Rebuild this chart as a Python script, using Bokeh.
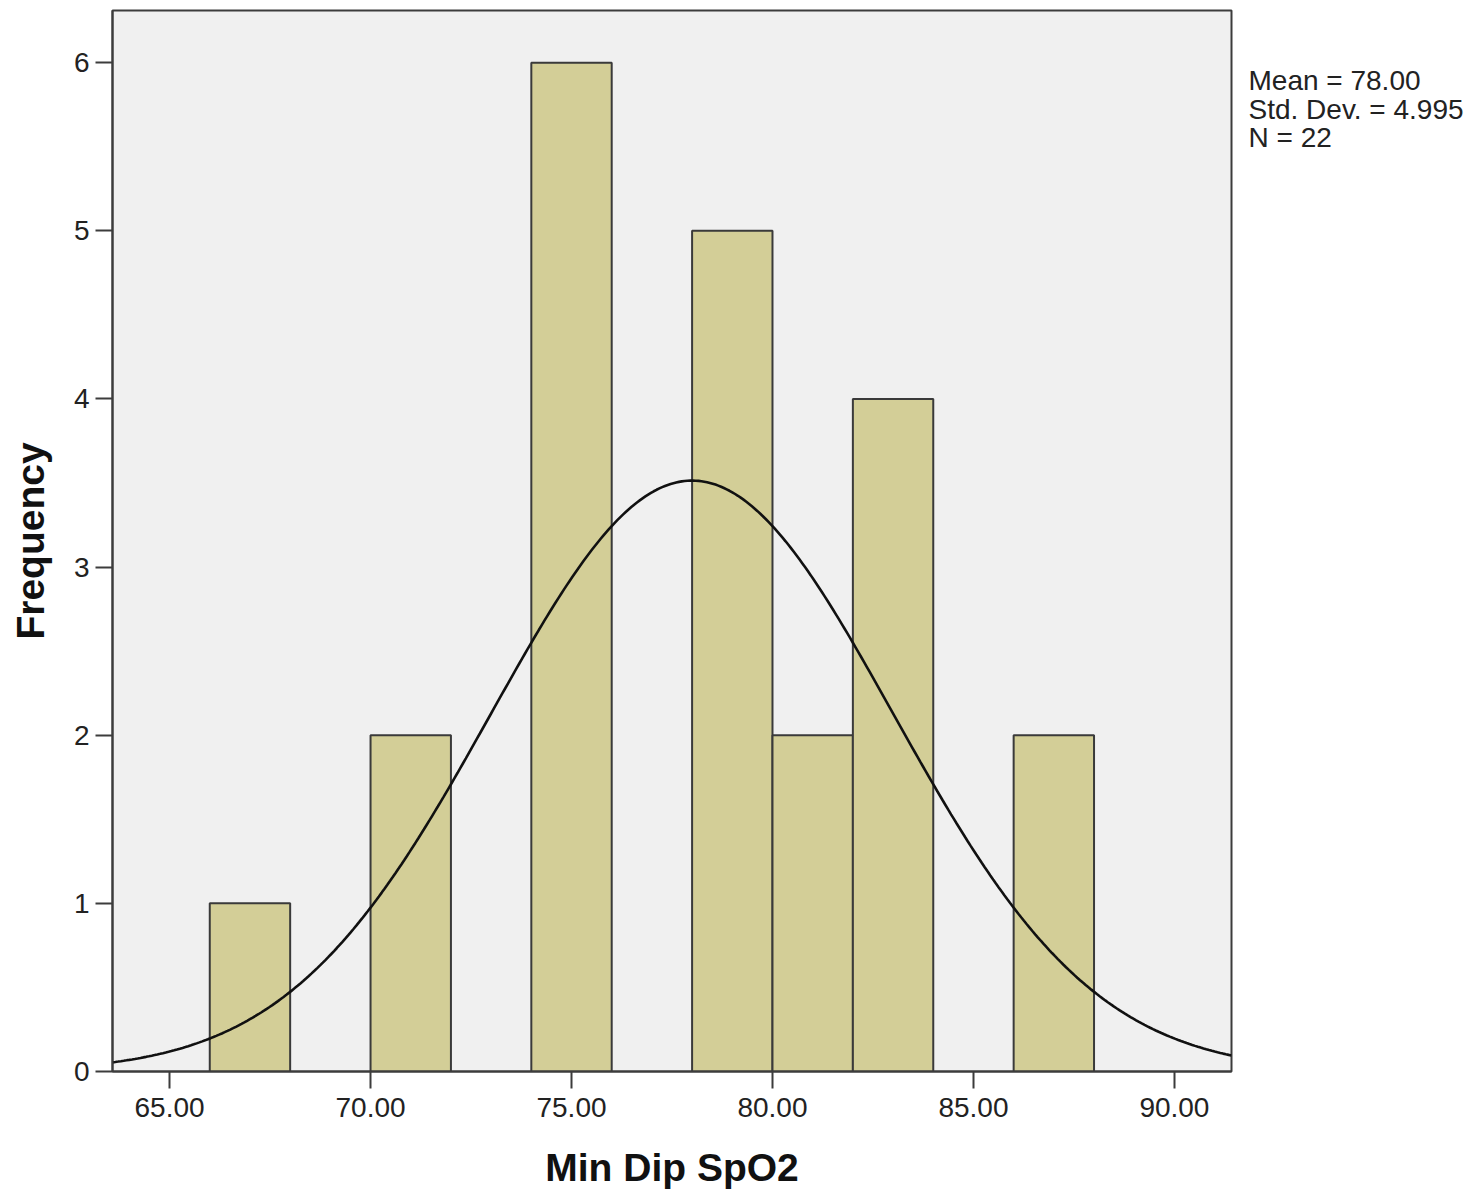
import numpy as np
from bokeh.plotting import figure
from bokeh.models import FixedTicker, PrintfTickFormatter, ColumnDataSource
from bokeh.layouts import row
from bokeh.core.properties import value
from bokeh.embed import file_html
from bokeh.resources import INLINE

# ---- data ----
bin_left = [66, 70, 74, 78, 80, 82, 86]
bin_right = [68, 72, 76, 80, 82, 84, 88]
counts = [1, 2, 6, 5, 2, 4, 2]
mean_val = 78.00
std_val = 4.995
n_val = 22
bin_width = 2.0
x_ticks = [65, 70, 75, 80, 85, 90]
y_ticks = [0, 1, 2, 3, 4, 5, 6]
x_lo, x_hi = 63.58, 91.42
y_lo, y_hi = 0, 6.31

FONT = "Liberation Sans"
H = 1192
TOP = 10
BOTTOM = H - 1071

p = figure(width=1233, height=H, x_range=(x_lo, x_hi), y_range=(y_lo, y_hi),
           output_backend="svg", toolbar_location=None,
           min_border_left=112, min_border_right=2, min_border_top=TOP,
           min_border_bottom=BOTTOM)
p.background_fill_color = "#F0F0F0"
p.border_fill_color = "white"
p.outline_line_color = "#3C3C3C"
p.outline_line_width = 2
p.xgrid.visible = False
p.ygrid.visible = False

p.quad(left=bin_left, right=bin_right, top=counts, bottom=0,
       fill_color="#D3CE97", line_color="#3A3A3A", line_width=2)

# fitted normal curve from stated mean / std / N
xs = np.linspace(x_lo, x_hi, 400)
ys = n_val * bin_width / (std_val * np.sqrt(2 * np.pi)) * np.exp(-0.5 * ((xs - mean_val) / std_val) ** 2)
p.line(xs, ys, line_color="#111111", line_width=2.6)

for ax in (p.xaxis[0], p.yaxis[0]):
    ax.axis_line_color = "#3C3C3C"
    ax.axis_line_width = 2
    ax.major_tick_line_color = "#3C3C3C"
    ax.major_tick_line_width = 2
    ax.major_tick_in = 0
    ax.major_tick_out = 17
    ax.minor_tick_line_color = None
    ax.major_label_text_font = FONT
    ax.major_label_text_font_size = "28px"
    ax.major_label_text_color = "#222222"
    ax.axis_label_text_font = FONT
    ax.axis_label_text_font_size = "39px"
    ax.axis_label_text_font_style = "bold"
    ax.axis_label_text_color = "#111111"

p.xaxis.ticker = FixedTicker(ticks=x_ticks)
p.xaxis.formatter = PrintfTickFormatter(format="%.2f")
p.xaxis.major_label_standoff = 9
p.xaxis.axis_label = "Min Dip SpO2"
p.xaxis.axis_label_standoff = 26

p.yaxis.ticker = FixedTicker(ticks=y_ticks)
p.yaxis.major_label_standoff = 6
p.yaxis.axis_label = "Frequency"
p.yaxis.axis_label_standoff = 19

# stats panel to the right of the chart (same frame top/bottom as the chart)
stats_lines = ["Mean = %.2f" % mean_val, "Std. Dev. = %.3f" % std_val, "N = %d" % n_val]
W2 = 240
FH = H - TOP - BOTTOM
p2 = figure(width=W2, height=H, x_range=(0, W2), y_range=(FH, 0),
            output_backend="svg", toolbar_location=None,
            min_border_left=0, min_border_right=0, min_border_top=TOP,
            min_border_bottom=BOTTOM)
p2.axis.visible = False
p2.grid.visible = False
p2.outline_line_color = None
p2.background_fill_color = "white"
src = ColumnDataSource(dict(x=[15, 15, 15], y=[70, 98.5, 127], t=stats_lines))
p2.text(x="x", y="y", text="t", source=src, text_font=value(FONT), text_font_size="28px",
        text_color="#222222", text_baseline="alphabetic", text_align="left")

layout = row(p, p2)
open("out.html", "w").write(file_html(layout, INLINE))
